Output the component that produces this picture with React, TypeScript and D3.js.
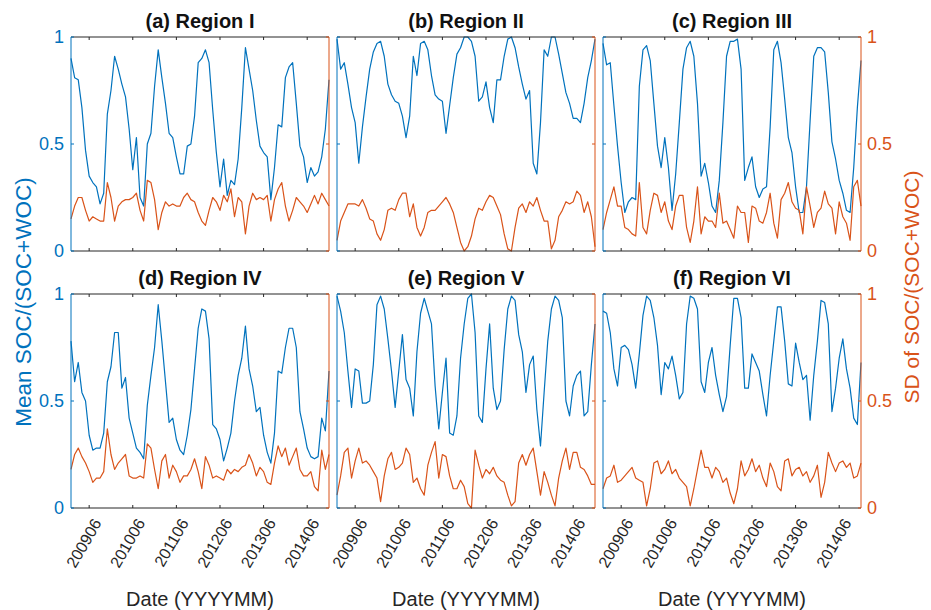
import React from 'react';
import * as d3 from 'd3';

const titles = ['(a) Region I', '(b) Region II', '(c) Region III', '(d) Region IV', '(e) Region V', '(f) Region VI'];
const tickLabels = ['200906', '201006', '201106', '201206', '201306', '201406'];
const tickMonths = [5, 17, 29, 41, 53, 65]; // month index since 200901
const yTicks = [0, 0.5, 1];
const yTickText = ['0', '0.5', '1'];

const meanA = [0.90,0.81,0.80,0.67,0.47,0.35,0.32,0.30,0.22,0.27,0.64,0.75,0.91,0.85,0.78,0.72,0.57,0.38,0.53,0.25,0.21,0.50,0.55,0.77,0.94,0.81,0.69,0.55,0.53,0.44,0.36,0.36,0.49,0.50,0.63,0.88,0.90,0.94,0.88,0.66,0.46,0.30,0.43,0.26,0.33,0.31,0.43,0.67,0.95,0.85,0.75,0.61,0.49,0.46,0.44,0.24,0.39,0.59,0.58,0.81,0.86,0.88,0.69,0.49,0.44,0.32,0.39,0.35,0.37,0.44,0.57,0.80];
const sdA = [0.15,0.21,0.25,0.25,0.19,0.14,0.16,0.15,0.14,0.14,0.32,0.25,0.14,0.21,0.23,0.24,0.24,0.25,0.27,0.19,0.14,0.33,0.32,0.24,0.10,0.18,0.23,0.21,0.22,0.21,0.21,0.25,0.27,0.24,0.23,0.18,0.14,0.12,0.19,0.25,0.23,0.19,0.26,0.23,0.29,0.16,0.25,0.23,0.08,0.21,0.27,0.24,0.25,0.24,0.26,0.14,0.24,0.29,0.32,0.21,0.14,0.19,0.25,0.23,0.21,0.18,0.22,0.26,0.22,0.27,0.24,0.21];

const meanB = [0.99,0.85,0.88,0.78,0.67,0.60,0.41,0.58,0.72,0.85,0.93,0.97,0.98,0.91,0.78,0.73,0.70,0.69,0.63,0.53,0.63,0.91,0.82,0.97,0.98,0.94,0.82,0.73,0.71,0.70,0.55,0.68,0.81,0.92,0.95,1.00,1.00,0.98,0.91,0.70,0.72,0.79,0.67,0.60,0.80,0.80,0.91,0.99,1.00,0.95,0.86,0.78,0.71,0.75,0.41,0.36,0.60,0.94,0.91,1.00,1.00,0.92,0.83,0.74,0.69,0.62,0.62,0.60,0.69,0.81,0.89,0.99];
const sdB = [0.05,0.14,0.18,0.22,0.22,0.22,0.21,0.24,0.20,0.15,0.14,0.08,0.05,0.10,0.19,0.20,0.19,0.24,0.27,0.27,0.16,0.22,0.11,0.07,0.11,0.18,0.19,0.19,0.21,0.23,0.25,0.22,0.18,0.11,0.04,0.00,0.02,0.07,0.15,0.20,0.19,0.23,0.26,0.25,0.21,0.17,0.08,0.01,0.00,0.11,0.20,0.22,0.18,0.23,0.21,0.25,0.19,0.14,0.14,0.01,0.05,0.16,0.19,0.23,0.22,0.23,0.28,0.26,0.18,0.23,0.16,0.02];

const meanC = [0.97,0.87,0.88,0.68,0.49,0.32,0.18,0.23,0.25,0.24,0.77,0.94,0.96,0.89,0.69,0.49,0.39,0.53,0.39,0.19,0.36,0.60,0.85,0.95,0.98,0.91,0.69,0.35,0.41,0.32,0.21,0.18,0.33,0.60,0.91,0.98,0.98,0.99,0.85,0.33,0.39,0.44,0.30,0.25,0.29,0.30,0.58,0.94,0.98,0.88,0.71,0.53,0.46,0.30,0.18,0.18,0.30,0.61,0.91,0.95,0.95,0.93,0.74,0.51,0.43,0.33,0.27,0.19,0.18,0.39,0.67,0.89];
const sdC = [0.10,0.18,0.24,0.30,0.21,0.21,0.11,0.10,0.08,0.07,0.32,0.11,0.08,0.19,0.27,0.26,0.18,0.23,0.14,0.10,0.21,0.26,0.26,0.11,0.04,0.14,0.30,0.08,0.16,0.14,0.14,0.11,0.27,0.13,0.14,0.10,0.06,0.21,0.18,0.18,0.04,0.21,0.20,0.14,0.13,0.18,0.27,0.13,0.06,0.24,0.27,0.32,0.23,0.20,0.19,0.08,0.30,0.21,0.11,0.18,0.20,0.28,0.22,0.20,0.08,0.23,0.16,0.13,0.05,0.30,0.33,0.21];

const meanD = [0.78,0.59,0.68,0.54,0.50,0.34,0.27,0.28,0.28,0.35,0.59,0.66,0.82,0.82,0.56,0.61,0.42,0.35,0.28,0.26,0.23,0.48,0.62,0.75,0.95,0.78,0.59,0.40,0.42,0.32,0.27,0.25,0.34,0.46,0.65,0.84,0.93,0.92,0.79,0.39,0.37,0.32,0.22,0.28,0.35,0.50,0.62,0.70,0.85,0.65,0.57,0.45,0.47,0.34,0.26,0.21,0.35,0.64,0.63,0.75,0.84,0.84,0.75,0.45,0.37,0.28,0.24,0.23,0.24,0.42,0.36,0.64];
const sdD = [0.18,0.25,0.28,0.24,0.21,0.17,0.12,0.14,0.14,0.17,0.37,0.25,0.18,0.21,0.23,0.25,0.15,0.14,0.14,0.15,0.14,0.30,0.28,0.18,0.09,0.22,0.25,0.14,0.20,0.17,0.12,0.15,0.15,0.18,0.23,0.17,0.09,0.24,0.20,0.14,0.15,0.14,0.13,0.18,0.16,0.18,0.17,0.19,0.20,0.25,0.21,0.15,0.19,0.17,0.12,0.11,0.21,0.29,0.24,0.28,0.20,0.24,0.28,0.18,0.15,0.15,0.17,0.10,0.08,0.27,0.18,0.25];

const meanE = [0.99,0.92,0.82,0.64,0.47,0.65,0.64,0.49,0.49,0.50,0.67,0.95,0.99,0.93,0.79,0.64,0.47,0.64,0.81,0.60,0.56,0.43,0.73,0.91,0.98,0.92,0.86,0.57,0.37,0.54,0.70,0.35,0.34,0.43,0.70,0.86,0.98,1.00,0.82,0.43,0.40,0.65,0.86,0.56,0.46,0.50,0.74,0.93,0.99,0.97,0.81,0.73,0.54,0.67,0.71,0.46,0.29,0.54,0.78,0.93,0.99,0.97,0.89,0.50,0.43,0.57,0.62,0.64,0.43,0.45,0.67,0.86];
const sdE = [0.06,0.15,0.26,0.28,0.14,0.22,0.28,0.21,0.22,0.20,0.17,0.14,0.03,0.15,0.23,0.26,0.18,0.19,0.21,0.28,0.25,0.12,0.14,0.09,0.06,0.20,0.26,0.31,0.14,0.25,0.24,0.15,0.09,0.09,0.13,0.10,0.02,0.00,0.27,0.20,0.14,0.18,0.16,0.19,0.15,0.13,0.12,0.06,0.01,0.03,0.21,0.25,0.20,0.25,0.28,0.17,0.06,0.17,0.12,0.06,0.01,0.14,0.22,0.28,0.18,0.26,0.26,0.19,0.18,0.15,0.11,0.11];

const meanF = [0.92,0.91,0.82,0.65,0.57,0.75,0.76,0.74,0.67,0.56,0.72,0.90,0.99,0.97,0.89,0.76,0.53,0.68,0.65,0.71,0.62,0.51,0.54,0.86,0.99,0.98,0.93,0.59,0.54,0.68,0.75,0.62,0.53,0.45,0.52,0.76,0.98,0.98,0.89,0.56,0.56,0.72,0.68,0.64,0.53,0.43,0.62,0.78,0.94,0.94,0.78,0.58,0.57,0.77,0.68,0.60,0.62,0.41,0.62,0.78,0.97,0.96,0.86,0.45,0.56,0.70,0.79,0.65,0.56,0.42,0.39,0.68];
const sdF = [0.09,0.14,0.15,0.20,0.12,0.13,0.15,0.17,0.19,0.14,0.13,0.12,0.01,0.09,0.21,0.22,0.16,0.18,0.22,0.16,0.18,0.14,0.12,0.10,0.01,0.09,0.18,0.27,0.19,0.19,0.14,0.19,0.17,0.12,0.14,0.07,0.02,0.09,0.22,0.15,0.18,0.23,0.17,0.20,0.14,0.10,0.21,0.17,0.10,0.08,0.22,0.23,0.15,0.18,0.19,0.15,0.17,0.12,0.15,0.20,0.05,0.12,0.26,0.21,0.17,0.21,0.22,0.19,0.21,0.14,0.15,0.21];

const means = [meanA, meanB, meanC, meanD, meanE, meanF];
const sds = [sdA, sdB, sdC, sdD, sdE, sdF];

const BLUE = '#0072BD';
const ORANGE = '#D95319';
const DARK = '#262626';
const FONT = '"Liberation Sans", Arial, Helvetica, sans-serif';

const colLeft = [71, 337, 603];
const rowTop = [37, 294];
const W = 258;
const H = 214;

const Panel = ({ k }: { k: number }) => {
  const col = k % 3;
  const row = Math.floor(k / 3);
  const left = colLeft[col];
  const top = rowTop[row];

  const x = d3.scaleLinear().domain([0, meanA.length - 1]).range([left, left + W]);
  const y = d3.scaleLinear().domain([0, 1]).range([top + H, top]);
  const line = d3.line<number>().x((d, i) => x(i)).y(d => y(d));

  return (
    <g>
      <path d={line(means[k]) || ''} fill="none" stroke={BLUE} strokeWidth={1.2} strokeLinejoin="round" />
      <path d={line(sds[k]) || ''} fill="none" stroke={ORANGE} strokeWidth={1.2} strokeLinejoin="round" />

      {/* box */}
      <line x1={left} x2={left + W} y1={top} y2={top} stroke={DARK} />
      <line x1={left} x2={left + W} y1={top + H} y2={top + H} stroke={DARK} />
      <line x1={left} x2={left} y1={top} y2={top + H} stroke={BLUE} />
      <line x1={left + W} x2={left + W} y1={top} y2={top + H} stroke={ORANGE} />

      {tickMonths.map(m => (
        <g key={m}>
          <line x1={x(m)} x2={x(m)} y1={top + H} y2={top + H - 3} stroke={DARK} />
          <line x1={x(m)} x2={x(m)} y1={top} y2={top + 3} stroke={DARK} />
        </g>
      ))}
      {yTicks.map(t => (
        <g key={t}>
          <line x1={left} x2={left + 3} y1={y(t)} y2={y(t)} stroke={BLUE} />
          <line x1={left + W} x2={left + W - 3} y1={y(t)} y2={y(t)} stroke={ORANGE} />
        </g>
      ))}

      <text x={left + W / 2} y={top - 9} textAnchor="middle" fontSize={20} fontWeight="bold" fill="#111">
        {titles[k]}
      </text>

      {col === 0 && yTicks.map((t, i) => (
        <text key={t} x={left - 7} y={y(t)} dy="0.35em" textAnchor="end" fontSize={18} fill={BLUE}>
          {yTickText[i]}
        </text>
      ))}
      {col === 2 && yTicks.map((t, i) => (
        <text key={t} x={left + W + 6} y={y(t)} dy="0.35em" textAnchor="start" fontSize={18} fill={ORANGE}>
          {yTickText[i]}
        </text>
      ))}

      {row === 1 && tickMonths.map((m, i) => (
        <text key={m} transform={`translate(${x(m) + 8},${top + H + 12}) rotate(-60)`} textAnchor="end" dy="0.35em" fontSize={16} fill={DARK}>
          {tickLabels[i]}
        </text>
      ))}
      {row === 1 && (
        <text x={left + W / 2} y={606} textAnchor="middle" fontSize={20} fill={DARK}>
          Date (YYYYMM)
        </text>
      )}
    </g>
  );
};

const App = () => {
  return (
    <svg width={931} height={610} style={{ position: 'absolute', left: 0, top: 0, background: '#fff' }} fontFamily={FONT}>
      <rect width={931} height={610} fill="#fff" />
      {titles.map((t, k) => <Panel key={t} k={k} />)}
      <text transform="translate(23,302) rotate(-90)" textAnchor="middle" dy="0.35em" fontSize={22.5} fill={BLUE}>
        Mean SOC/(SOC+WOC)
      </text>
      <text transform="translate(912,287) rotate(-90)" textAnchor="middle" dy="0.35em" fontSize={21} fill={ORANGE}>
        SD of SOC/(SOC+WOC)
      </text>
    </svg>
  );
};

export default App;
